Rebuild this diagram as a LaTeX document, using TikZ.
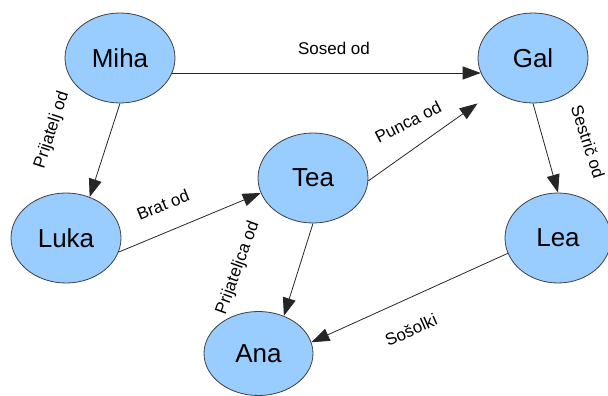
\documentclass[tikz,border=0pt]{standalone}
\usepackage{fontspec}
\setmainfont{Liberation Sans}
\usetikzlibrary{shapes.geometric,arrows.meta,calc}
\definecolor{modra}{RGB}{153,204,255}

\begin{document}
\begin{tikzpicture}[x=1pt,y=-1pt,
        oseba/.style={ellipse, draw=black!75, fill=modra, line width=0.8pt,
            minimum width=110pt, minimum height=90pt, inner sep=0pt,
            font=\fontsize{26}{30}\selectfont},
        zveza/.style={draw=black!85, line width=0.8pt,
            -{Triangle[length=18pt,width=13pt]}},
        oznaka/.style={font=\fontsize{17}{20}\selectfont, inner sep=0pt}]
    \useasboundingbox (0,0) rectangle (608,396);
    % osebe
    \node[oseba] (miha) at (120,58) {Miha};
    \node[oseba] (gal) at (533,58) {Gal};
    \node[oseba] (tea) at (313,178) {Tea};
    \node[oseba] (luka) at (66,238) {Luka};
    \node[oseba, minimum width=106pt] (lea) at (558,238) {Lea};
    \node[oseba, minimum width=109pt, minimum height=84pt] (ana) at (258.5,353.5) {Ana};
    % povezave
    \draw[zveza] (miha.-16) -- (gal.196);
    \draw[zveza] (miha.south) -- (luka.60);
    \draw[zveza] (luka.-15) -- (tea.196);
    \draw[zveza] (tea.-3) -- (gal.west |- gal.south);
    \draw[zveza] (gal.south) -- (lea.north);
    \draw[zveza] (tea.south) -- (ana.56);
    \draw[zveza] (lea.197) -- (ana.12);
    % oznake povezav
    \node[oznaka] (sosed) at (334,48) {Sosed od};
    \node[oznaka, rotate=72] (prijatelj) at (52,130) {Prijatelj od};
    \node[oznaka, rotate=22] (brat) at (163,205) {Brat od};
    \node[oznaka, rotate=27] (punca) at (408,122) {Punca od};
    \node[oznaka, rotate=-72] (sestric) at (588,142) {Sestrič od};
    \node[oznaka, rotate=70] (prijateljica) at (238,268) {Prijateljca od};
    \node[oznaka, rotate=24] (sosolki) at (411,330) {Sošolki};
\end{tikzpicture}
\end{document}
